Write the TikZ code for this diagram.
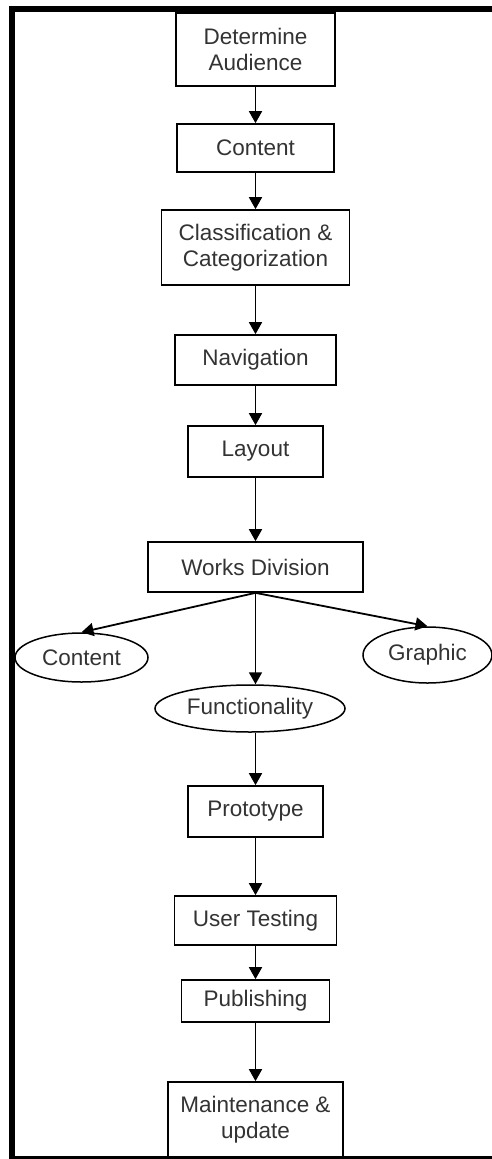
\documentclass[tikz,border=0pt]{standalone}
\usepackage{fontspec}
\setmainfont{Liberation Sans}
\usetikzlibrary{arrows.meta,shapes.geometric}
\tikzset{
  stepbox/.style={draw=black, line width=1.7pt, fill=white, inner sep=0pt, align=center,
    font=\fontsize{22.5}{25.5}\selectfont, text=black!80},
  oval/.style={ellipse, draw=black, line width=1.5pt, fill=white, inner sep=0pt,
    font=\fontsize{22.5}{25.5}\selectfont, text=black!80},
  conn/.style={line width=1.8pt, -{Triangle[width=13pt,length=12pt]}},
  framebar/.style={fill=black, draw=none}
}
\begin{document}
\begin{tikzpicture}[x=1pt,y=-1pt]
\useasboundingbox (0,0) rectangle (492,1159);
% frame
\fill[framebar] (9,6) rectangle (492,12);
\fill[framebar] (9,6) rectangle (15,1159);
\fill[framebar] (9,1156) rectangle (492,1159);
% boxes
\node[stepbox, minimum width=159pt, minimum height=73pt] (aud) at (255.5,49.5) {Determine\\Audience};
\node[stepbox, minimum width=157pt, minimum height=48pt] (cont) at (255.5,148) {Content};
\node[stepbox, minimum width=188pt, minimum height=75pt] (cls) at (255.5,247.5) {Classification \&\\Categorization};
\node[stepbox, minimum width=161pt, minimum height=50pt] (nav) at (255.5,360) {Navigation};
\node[stepbox, minimum width=135pt, minimum height=51pt] (lay) at (255.5,451.5) {Layout};
\node[stepbox, minimum width=215pt, minimum height=50pt] (wd) at (255.5,567) {Works Division};
\node[oval, minimum width=133pt, minimum height=49pt] (ce) at (81.5,657.5) {Content};
\node[oval, minimum width=190pt, minimum height=47pt] (fe) at (250,708.5) {Functionality};
\node[oval, minimum width=129pt, minimum height=56pt] (ge) at (427.5,655) {Graphic};
\node[stepbox, minimum width=135pt, minimum height=51pt] (pro) at (255.5,811.5) {Prototype};
\node[stepbox, minimum width=162pt, minimum height=49pt] (ut) at (255.5,920.5) {User Testing};
\node[stepbox, minimum width=148pt, minimum height=42pt] (pub) at (255.5,1001) {Publishing};
\node[stepbox, minimum width=175pt, minimum height=75pt] (mnt) at (255.5,1119.5) {Maintenance \&\\update};
% connectors
\draw[conn] (aud.south) -- (cont.north);
\draw[conn] (cont.south) -- (cls.north);
\draw[conn] (cls.south) -- (nav.north);
\draw[conn] (nav.south) -- (lay.north);
\draw[conn] (lay.south) -- (wd.north);
\draw[conn] (wd.south) -- (ce.north);
\draw[conn] (wd.south) -- (ge.north);
\draw[conn] (wd.south) -- (wd.south |- fe.north);
\draw[conn] (wd.south |- fe.south) -- (pro.north);
\draw[conn] (pro.south) -- (ut.north);
\draw[conn] (ut.south) -- (pub.north);
\draw[conn] (pub.south) -- (mnt.north);
\end{tikzpicture}
\end{document}
